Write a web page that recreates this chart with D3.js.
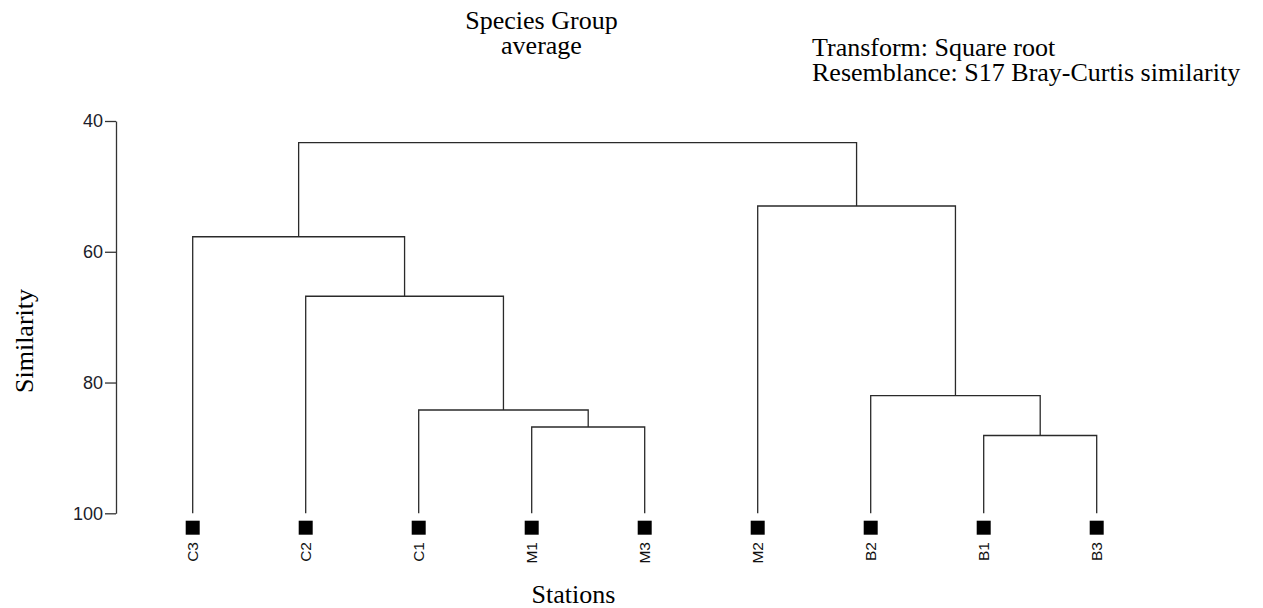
<!DOCTYPE html>
<html lang="en">
<head>
    <meta charset="UTF-8">
    <title>Species Group average dendrogram</title>
    <script src="https://d3js.org/d3.v7.min.js"></script>
    <style>
        body, html {
            margin: 0;
            background-color: #fff;
        }
        .serif { font-family: 'Times New Roman', 'Liberation Serif', serif; font-size: 26px; fill: #000; }
        .axis text { font-family: Arial, 'Liberation Sans', sans-serif; font-size: 18px; fill: #1c1c2a; }
        .axis path, .axis line { stroke: #333; stroke-width: 1.3; }
        .leaf-label { font-family: Arial, 'Liberation Sans', sans-serif; font-size: 15.5px; fill: #111; }
    </style>
</head>
<body>
<svg id="chart"></svg>

<script>
    // leaves in plotted order
    const leaves = ["C3", "C2", "C1", "M1", "M3", "M2", "B2", "B1", "B3"];

    // merges: left child, right child, similarity level (n<i> = result of merge i)
    const mergeLeft  = ["M1", "C1", "C2", "C3", "B1", "B2", "M2", "n3"];
    const mergeRight = ["M3", "n0", "n1", "n2", "B3", "n4", "n5", "n6"];
    const mergeLevel = [86.8, 84.2, 66.8, 57.7, 88.1, 82.0, 53.0, 43.3];

    const yTicks = [40, 60, 80, 100];

    const width = 1263, height = 608;

    const svg = d3.select("#chart")
        .attr("width", width)
        .attr("height", height);

    const x = d3.scalePoint().domain(leaves).range([192.7, 1096.7]);
    const y = d3.scaleLinear().domain([40, 100]).range([121, 513.3]);

    // node positions
    const pos = {};
    leaves.forEach(l => pos[l] = { x: x(l), level: 100 });
    mergeLeft.forEach((l, i) => {
        const a = pos[l], b = pos[mergeRight[i]];
        pos["n" + i] = { x: (a.x + b.x) / 2, level: mergeLevel[i], a, b };
    });

    // axis
    svg.append("g")
        .attr("class", "axis")
        .attr("transform", "translate(116,0)")
        .call(d3.axisLeft(y).tickValues(yTicks).tickSize(11).tickSizeOuter(0).tickPadding(2));

    // dendrogram links
    const links = svg.append("g")
        .attr("fill", "none")
        .attr("stroke", "#2a2a2a")
        .attr("stroke-width", 1.3);

    mergeLeft.forEach((l, i) => {
        const n = pos["n" + i];
        const yy = y(n.level);
        links.append("path")
            .attr("d", `M${n.a.x},${y(n.a.level)}V${yy}H${n.b.x}V${y(n.b.level)}`);
    });

    // leaf squares
    svg.append("g").selectAll("rect")
        .data(leaves)
        .join("rect")
        .attr("x", d => x(d) - 7)
        .attr("y", 520.7)
        .attr("width", 14)
        .attr("height", 14)
        .attr("fill", "#000");

    svg.append("g").selectAll("text")
        .data(leaves)
        .join("text")
        .attr("class", "leaf-label")
        .attr("transform", d => `translate(${x(d) + 5.5},542) rotate(-90)`)
        .attr("text-anchor", "end")
        .text(d => d);

    // titles
    svg.append("text").attr("class", "serif").attr("x", 541.5).attr("y", 29)
        .attr("text-anchor", "middle").text("Species Group");
    svg.append("text").attr("class", "serif").attr("x", 541.5).attr("y", 54)
        .attr("text-anchor", "middle").text("average");
    svg.append("text").attr("class", "serif").attr("x", 812).attr("y", 56)
        .text("Transform: Square root");
    svg.append("text").attr("class", "serif").attr("x", 812).attr("y", 81)
        .text("Resemblance: S17 Bray-Curtis similarity");

    svg.append("text").attr("class", "serif")
        .attr("transform", "translate(33,341) rotate(-90)")
        .attr("text-anchor", "middle").text("Similarity");
    svg.append("text").attr("class", "serif").attr("x", 573.5).attr("y", 603)
        .attr("text-anchor", "middle").text("Stations");
</script>
</body>
</html>
